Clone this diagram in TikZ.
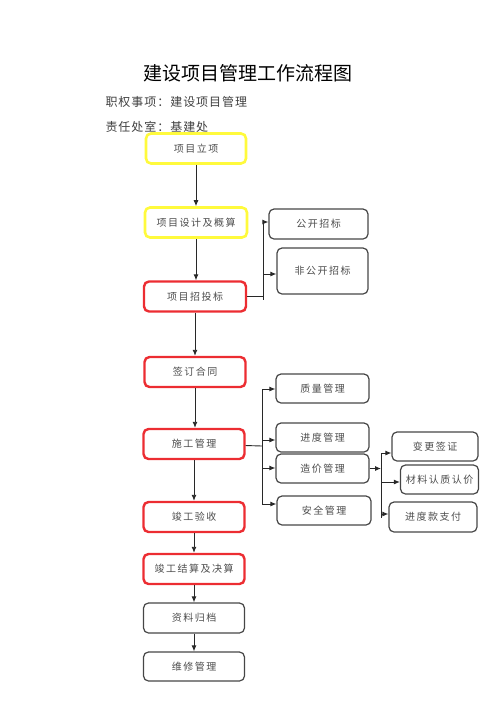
\documentclass[tikz,border=0pt]{standalone}
\usepackage{fontspec}
\setmainfont{Noto Sans CJK SC}
\newfontfamily\boxfont[LetterSpace=15]{Noto Sans CJK SC}
\newfontfamily\headfont[LetterSpace=8]{Noto Sans CJK SC}
\usepackage{xcolor}
\usepackage{tikz}
\usetikzlibrary{positioning,arrows.meta}

\definecolor{boxyellow}{RGB}{255,250,60}
\definecolor{boxred}{RGB}{236,45,50}
\definecolor{boxgray}{RGB}{70,70,70}
\definecolor{linegray}{RGB}{40,40,40}

\tikzset{
  stepbox/.style={rectangle, rounded corners=5pt, inner sep=0pt, align=center,
    font=\boxfont\fontsize{10}{12}\selectfont, text=black!70,
    minimum width=101pt, minimum height=30pt},
  yellowbox/.style={stepbox, draw=boxyellow, line width=2.6pt},
  redbox/.style={stepbox, draw=boxred, line width=2.4pt},
  graybox/.style={stepbox, draw=boxgray, line width=1.2pt, minimum height=29pt},
  link/.style={draw=linegray, line width=0.9pt},
}

\begin{document}
\begin{tikzpicture}[x=1pt, y=-1pt, >={Latex[length=6pt,width=5pt]}]
    \useasboundingbox (0,0) rectangle (496,702);

    % heading
    \node[font=\fontsize{19}{22}\selectfont] (title) at (248,73) {建设项目管理工作流程图};
    \node[font=\headfont\fontsize{12}{14}\selectfont, text=black!75, anchor=west] (item) at (102,102) {职权事项：建设项目管理};
    \node[font=\headfont\fontsize{12}{14}\selectfont, text=black!75, anchor=west] (dept) at (102,127) {责任处室：基建处};

    % main column
    \node[yellowbox, minimum width=100pt] (lixiang) at (196,148.5) {项目立项};
    \node[yellowbox, minimum width=102pt] (sheji) at (196,222.5) {项目设计及概算};
    \node[redbox, minimum width=102pt] (zhaotou) at (195,296.5) {项目招投标};
    \node[redbox] (hetong) at (195,372) {签订合同};
    \node[redbox] (shigong) at (194,444) {施工管理};
    \node[redbox] (yanshou) at (194,517) {竣工验收};
    \node[redbox] (jiesuan) at (194,569) {竣工结算及决算};
    \node[graybox, minimum height=30pt] (guidang) at (194,618) {资料归档};
    \node[graybox] (weixiu) at (194,666.5) {维修管理};

    % tender branch
    \node[graybox, minimum width=99pt, minimum height=30pt] (gongkai) at (318.5,224) {公开招标};
    \node[graybox, minimum width=91pt, minimum height=46pt] (feigongkai) at (322.5,271) {非公开招标};

    % construction branch
    \node[graybox, minimum width=93pt] (zhiliang) at (322.5,388.5) {质量管理};
    \node[graybox, minimum width=93pt] (jindu) at (322.5,437.5) {进度管理};
    \node[graybox, minimum width=93pt] (zaojia) at (322.5,468.5) {造价管理};
    \node[graybox, minimum width=94pt] (anquan) at (324,510.5) {安全管理};

    % cost branch
    \node[graybox, minimum width=86pt] (biangeng) at (435,446.5) {变更签证};
    \node[graybox, minimum width=78pt] (cailiao) at (439.5,479.5) {材料认质认价};
    \node[graybox, minimum width=88pt, minimum height=30pt] (jindukuan) at (433,517) {进度款支付};

    \draw[link, ->] (lixiang) -- (sheji);
    \draw[link, ->] (sheji) -- (sheji |- zhaotou.north);
    \draw[link, ->] (zhaotou) -- (hetong);
    \draw[link, ->] (hetong) -- (hetong |- shigong.north);
    \draw[link, ->] (shigong) -- (yanshou);
    \draw[link, ->] (yanshou) -- (jiesuan);
    \draw[link, ->] (jiesuan) -- (guidang);
    \draw[link, ->] (guidang) -- (weixiu);

    \coordinate (j1) at (263,296.5);
    \coordinate (j1a) at (263,222);
    \coordinate (j1b) at (263,274);
    \coordinate (j1c) at (263,300);
    \draw[link] (zhaotou) -- (j1);
    \draw[link] (j1a) -- (j1c);
    \draw[link, ->] (j1a) -- (j1a -| gongkai.west);
    \draw[link, ->] (j1b) -- (j1b -| feigongkai.west);

    \coordinate (j2) at (262,446);
    \coordinate (j2a) at (262,389);
    \coordinate (j2b) at (262,440);
    \coordinate (j2c) at (262,468);
    \coordinate (j2d) at (262,504);
    \draw[link] (shigong) -- (j2);
    \draw[link] (j2a) -- (j2d);
    \draw[link, ->] (j2a) -- (j2a -| zhiliang.west);
    \draw[link, ->] (j2b) -- (j2b -| jindu.west);
    \draw[link, ->] (j2c) -- (j2c -| zaojia.west);
    \draw[link, ->] (j2d) -- (j2d -| anquan.west);

    \coordinate (j3) at (381,468.5);
    \coordinate (j3a) at (381,453);
    \coordinate (j3b) at (381,482);
    \coordinate (j3c) at (381,514);
    \coordinate (j3d) at (381,518);
    \draw[link, ->] (zaojia) -- (j3);
    \draw[link] (j3a) -- (j3d);
    \draw[link, ->] (j3a) -- (j3a -| biangeng.west);
    \draw[link, ->] (j3b) -- (j3b -| cailiao.west);
    \draw[link, ->] (j3c) -- (j3c -| jindukuan.west);
\end{tikzpicture}
\end{document}
